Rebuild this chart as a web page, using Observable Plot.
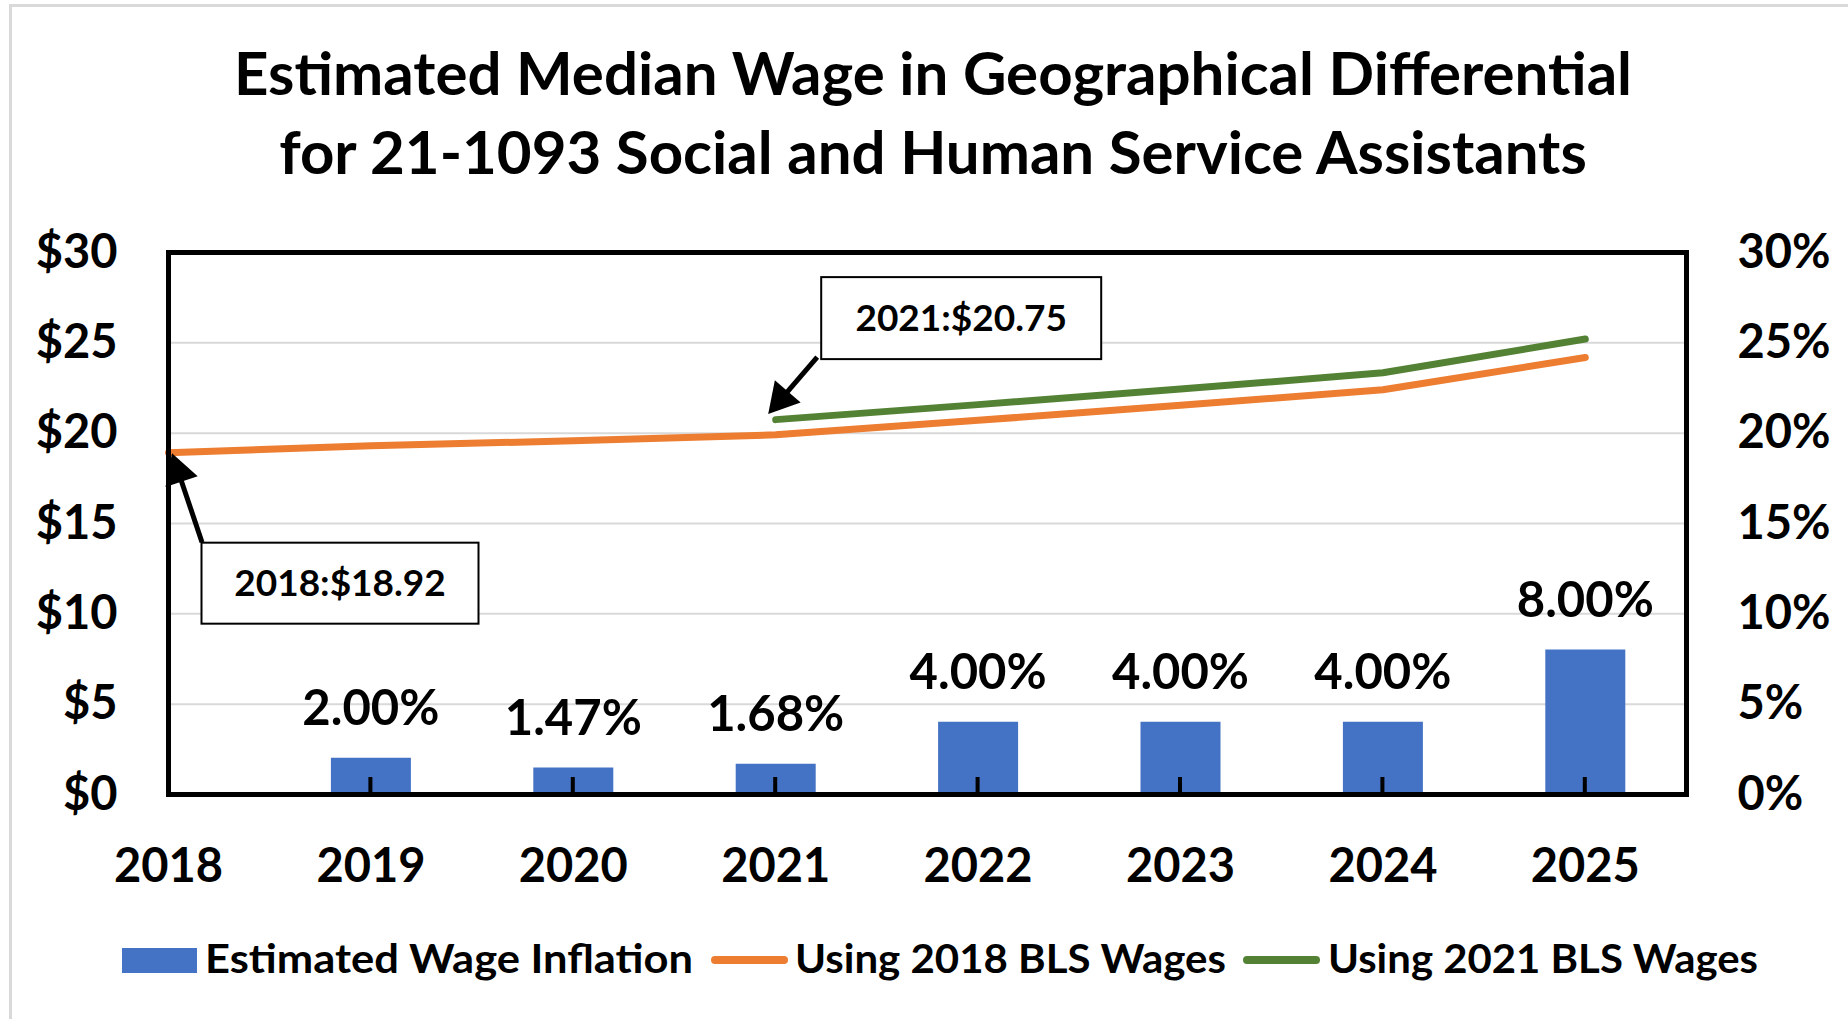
<!DOCTYPE html>
<html>
<head>
<meta charset="utf-8">
<script src="https://cdn.jsdelivr.net/npm/d3@7"></script>
<script src="https://cdn.jsdelivr.net/npm/@observablehq/plot@0.6"></script>
<style>
  html, body { margin: 0; padding: 0; background: #fff; }
  #wrap { position: relative; width: 1848px; height: 1019px; overflow: hidden; background: #fff; font-family: Lato, sans-serif; font-weight: bold; color: #000; }
  #border { position: absolute; left: 9px; top: 4px; width: 1900px; height: 1100px; border: 3px solid #d9d9d9; }
  #title { position: absolute; left: 0; top: 33px; width: 1866px; text-align: center; font-size: 60px; line-height: 79px; }
  #chart { position: absolute; left: 0; top: 200px; }
  #legend { position: absolute; left: 0; top: 900px; }
</style>
</head>
<body>
<div id="wrap">
  <div id="border"></div>
  <div id="title">Estimated Median Wage in Geographical Differential<br>for 21-1093 Social and Human Service Assistants</div>
  <div id="chart"></div>
  <div id="legend"></div>
</div>
<script>
// ---- data ----
const years = [2018, 2019, 2020, 2021, 2022, 2023, 2024, 2025];
const inflationPct = [null, 2.00, 1.47, 1.68, 4.00, 4.00, 4.00, 8.00];
const wages2018 = [18.92, 19.30, 19.58, 19.91, 20.71, 21.54, 22.40, 24.19];
const wages2021 = [null, null, null, 20.75, 21.58, 22.44, 23.34, 25.21];
const yTicks = [0, 5, 10, 15, 20, 25, 30];
const seriesNames = ["Estimated Wage Inflation", "Using 2018 BLS Wages", "Using 2021 BLS Wages"];
const annotationYears = [2018, 2021];

const colors = { bar: "#4472C4", orange: "#ED7D31", green: "#548235" };

const bars = years.map((year, i) => ({ year, pct: inflationPct[i] })).filter(d => d.pct != null);
const line2018 = years.map((year, i) => ({ year, wage: wages2018[i] })).filter(d => d.wage != null);
const line2021 = years.map((year, i) => ({ year, wage: wages2021[i] })).filter(d => d.wage != null);
const annotations = [
  { year: annotationYears[0], value: wages2018[years.indexOf(annotationYears[0])], box: { dx: 172, dy: 131, w: 277, h: 81 }, tail: [34, 90], tip: [4, 1] },
  { year: annotationYears[1], value: wages2021[years.indexOf(annotationYears[1])], box: { dx: 186, dy: -101, w: 280, h: 82 }, tail: [42, -62], tip: [-7, -5] }
];

// custom mark: inner x ticks + callout boxes with arrows
function overlay(index, scales) {
  const { x, y } = scales;
  const g = d3.create("svg:g");
  years.slice(1).forEach(yr => {
    g.append("line")
      .attr("x1", x(yr)).attr("x2", x(yr))
      .attr("y1", y(0)).attr("y2", y(0) - 17)
      .attr("stroke", "#000").attr("stroke-width", 4);
  });
  annotations.forEach(a => {
    const px = x(a.year), py = y(a.value);
    const tx = px + a.tail[0], ty = py + a.tail[1];
    const hx = px + a.tip[0], hy = py + a.tip[1];
    const vx = hx - tx, vy = hy - ty, len = Math.hypot(vx, vy);
    const ux = vx / len, uy = vy / len;
    const headLen = 30, headHalf = 17;
    const bx = hx - ux * headLen, by = hy - uy * headLen;
    g.append("line").attr("x1", tx).attr("y1", ty).attr("x2", bx + ux * 2).attr("y2", by + uy * 2)
      .attr("stroke", "#000").attr("stroke-width", 5);
    g.append("polygon")
      .attr("points", [[hx, hy], [bx - uy * headHalf, by + ux * headHalf], [bx + uy * headHalf, by - ux * headHalf]].map(p => p.join(",")).join(" "))
      .attr("fill", "#000");
    const cx = px + a.box.dx, cy = py + a.box.dy;
    g.append("rect")
      .attr("x", cx - a.box.w / 2).attr("y", cy - a.box.h / 2)
      .attr("width", a.box.w).attr("height", a.box.h)
      .attr("fill", "#fff").attr("stroke", "#000").attr("stroke-width", 2);
    g.append("text")
      .attr("x", cx).attr("y", cy).attr("dy", "0.36em")
      .attr("text-anchor", "middle")
      .attr("font-size", 37).attr("font-weight", "bold").attr("font-family", "Lato, sans-serif")
      .attr("fill", "#000")
      .text(`${a.year}:$${a.value.toFixed(2)}`);
  });
  return g.node();
}

const fmtYear = d3.format("d");

const chart = Plot.plot({
  width: 1848,
  height: 700,
  marginTop: 52,
  marginBottom: 106,
  marginLeft: 168,
  marginRight: 162,
  style: { fontFamily: "Lato, sans-serif", fontWeight: "bold", background: "transparent", color: "#000", overflow: "visible" },
  x: { type: "linear", domain: [2018, 2025.5] },
  y: { domain: [0, 30] },
  marks: [
    Plot.gridY({ ticks: yTicks.slice(1, -1), stroke: "#d9d9d9", strokeOpacity: 1, strokeWidth: 2 }),
    Plot.ruleX(bars, { x: "year", y1: 0, y2: "pct", stroke: colors.bar, strokeWidth: 80 }),
    Plot.line(line2018, { x: "year", y: "wage", stroke: colors.orange, strokeWidth: 7, strokeLinecap: "round", strokeLinejoin: "round" }),
    Plot.line(line2021, { x: "year", y: "wage", stroke: colors.green, strokeWidth: 7, strokeLinecap: "round", strokeLinejoin: "round" }),
    Plot.frame({ stroke: "#000", strokeWidth: 5 }),
    overlay,
    Plot.text(bars, { x: "year", y: "pct", text: d => d.pct.toFixed(2) + "%", dy: -49, fontSize: 49, fontWeight: "bold", fill: "#000" }),
    Plot.axisY({ anchor: "left", ticks: yTicks, tickFormat: d => "$" + d, tickSize: 0, tickPadding: 51, fontSize: 47, fontWeight: "bold", label: null }),
    Plot.axisY({ anchor: "right", ticks: yTicks, tickFormat: d => d + "%", tickSize: 0, tickPadding: 51, fontSize: 47, fontWeight: "bold", label: null }),
    Plot.axisX({ ticks: years, tickFormat: fmtYear, tickSize: 0, tickPadding: 54, fontSize: 47, fontWeight: "bold", label: null })
  ]
});
document.getElementById("chart").appendChild(chart);

// ---- legend ----
const legend = d3.create("svg").attr("width", 1848).attr("height", 119)
  .style("font-family", "Lato, sans-serif").style("font-weight", "bold");
const items = [
  { name: seriesNames[0], kind: "rect", color: colors.bar, sx: 122, tx: 205, tw: 488 },
  { name: seriesNames[1], kind: "line", color: colors.orange, sx: 711, tx: 795, tw: 431 },
  { name: seriesNames[2], kind: "line", color: colors.green, sx: 1243, tx: 1328, tw: 430 }
];
items.forEach(it => {
  if (it.kind === "rect") {
    legend.append("rect").attr("x", it.sx).attr("y", 48).attr("width", 75).attr("height", 25).attr("fill", it.color);
  } else {
    legend.append("line").attr("x1", it.sx + 4).attr("x2", it.sx + 73).attr("y1", 60).attr("y2", 60)
      .attr("stroke", it.color).attr("stroke-width", 8).attr("stroke-linecap", "round");
  }
  legend.append("text").attr("x", it.tx).attr("y", 73).attr("font-size", 40)
    .attr("textLength", it.tw).attr("lengthAdjust", "spacingAndGlyphs")
    .attr("fill", "#000").text(it.name);
});
document.getElementById("legend").appendChild(legend.node());
</script>
</body>
</html>
